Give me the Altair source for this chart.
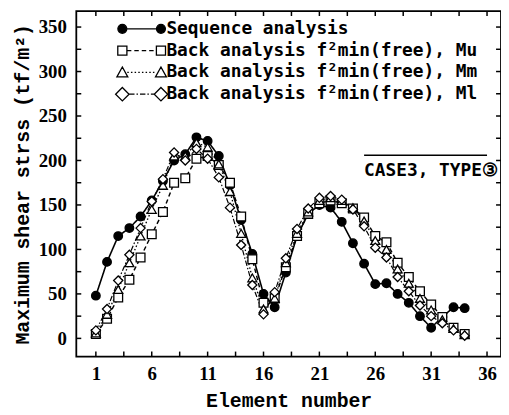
import altair as alt
import pandas as pd

# ---------------- data ----------------
elements = list(range(1, 35))
seq = [48, 86, 115, 124, 137, 155, 177, 200, 207, 226, 222, 205, 172, 133, 95, 50, 35,
       74, 115, 140, 150, 147, 131, 107, 84, 61, 62, 50, 40, 25, 12, 24, 35, 34]
mu = [5, 22, 46, 66, 91, 117, 142, 175, 180, 202, 205, 195, 175, 137, 89, 40, 45,
      80, 115, 140, 152, 155, 152, 146, 136, 115, 108, 85, 69, 53, 38, 24, 12, 5]
mm = [6, 27, 55, 85, 115, 145, 172, 205, 205, 220, 215, 196, 165, 118, 68, 33, 45,
      85, 118, 142, 155, 158, 155, 147, 132, 110, 100, 78, 62, 45, 32, 21, 11, 4]
ml = [9, 33, 65, 94, 124, 154, 179, 209, 200, 213, 202, 181, 147, 105, 60, 27, 52,
      90, 123, 146, 158, 160, 156, 145, 126, 102, 91, 69, 53, 37, 25, 17, 9, 3]

series_names = [
    "Sequence analysis",
    "Back analysis f²min(free), Mu",
    "Back analysis f²min(free), Mm",
    "Back analysis f²min(free), Ml",
]
series_values = [seq, mu, mm, ml]

x_label_values = [1, 6, 11, 16, 21, 26, 31, 36]
x_tick_values = [1, 3.5, 6, 8.5, 11, 13.5, 16, 18.5, 21, 23.5, 26, 28.5, 31, 33.5, 36]
y_label_values = [0, 50, 100, 150, 200, 250, 300, 350]
y_tick_values = [0, 25, 50, 75, 100, 125, 150, 175, 200, 225, 250, 275, 300, 325, 350]

x_title = "Element number"
y_title = "Maximum shear strss (tf/m²)"
annotation_text = ["CASE3, TYPE③"]
annotation_x = [25]
annotation_y = [182]
overline_x = [25]
overline_x2 = [36]
overline_y = [206]

rows = []
for name, vals in zip(series_names, series_values):
    for e, v in zip(elements, vals):
        rows.append({"element": e, "stress": v, "series": name})
df = pd.DataFrame(rows)

# ---------------- styling ----------------
W, H = 429, 349
TICK_LEN = 5
x_domain = [-0.75, 37.25]
y_domain = [-20.4, 368]
xscale = alt.Scale(domain=x_domain, nice=False, zero=False)
yscale = alt.Scale(domain=y_domain, nice=False, zero=False)

dash_px = [[1, 0], [4.5, 3], [1.5, 2.2], [5.5, 2, 1.5, 2]]
width_px = [1.6, 1.2, 1.2, 1.2]
point_shapes = ["circle", "square", "triangle-up", "diamond"]
point_sizes = [75, 85, 100, 175]
fills = ["black", "white", "white", "white"]
strokes = ["black", "black", "black", "black"]

TICK_FONT = "Liberation Serif"
TITLE_FONT = "Liberation Mono"
TEXT_FONT = "DejaVu Sans Mono"


def dash_segments(a, b, pattern):
    out = []
    pos, i = a, 0
    while pos < b - 1e-9:
        end = min(pos + pattern[i % len(pattern)], b)
        if i % 2 == 0:
            out.append(f"M{pos:.3f},0L{end:.3f},0")
        pos = end
        i += 1
    return "".join(out)


def marker(kind, cx):
    if kind == "circle":
        r = 0.45
        return (f"M{cx - r:.3f},0A{r},{r},0,1,0,{cx + r:.3f},0"
                f"A{r},{r},0,1,0,{cx - r:.3f},0Z")
    if kind == "square":
        h = 0.46
        return (f"M{cx - h:.3f},{-h}L{cx + h:.3f},{-h}L{cx + h:.3f},{h}"
                f"L{cx - h:.3f},{h}Z")
    if kind == "triangle":
        return (f"M{cx:.3f},-0.55L{cx + 0.55:.3f},0.45L{cx - 0.55:.3f},0.45Z")
    h = 0.68
    return f"M{cx:.3f},{-h}L{cx + h:.3f},0L{cx:.3f},{h}L{cx - h:.3f},0Z"


C = 1.95
legend_defs = [("circle", [10, 0], 0.45), ("square", [0.45, 0.3], 0.46),
               ("triangle", [0.15, 0.22], 0.5), ("diamond", [0.55, 0.2, 0.15, 0.2], 0.68)]
legend_paths = []
for kind, pat, half in legend_defs:
    a, b = -C + half, C - half
    legend_paths.append(marker(kind, -C) + dash_segments(a, b, pat) + marker(kind, C))

ax_x_lab = alt.Axis(orient="bottom", values=x_label_values, ticks=False, domain=False,
                    grid=False, labelFont=TICK_FONT, labelFontSize=19, labelFontWeight="bold",
                    labelColor="black", labelPadding=8, labelFlush=False, title=x_title,
                    titleFont=TITLE_FONT, titleFontSize=20, titleFontWeight="bold",
                    titleColor="black", titlePadding=7)
ax_y_lab = alt.Axis(orient="left", values=y_label_values, ticks=False, domain=False,
                    grid=False, labelFont=TICK_FONT, labelFontSize=19, labelFontWeight="bold",
                    labelColor="black", labelPadding=10, labelFlush=False, title=y_title,
                    titleFont=TITLE_FONT, titleFontSize=20, titleFontWeight="bold",
                    titleColor="black", titlePadding=6)

base = alt.Chart(df)

lines = base.mark_line(color="black").encode(
    x=alt.X("element:Q", scale=xscale, axis=ax_x_lab),
    y=alt.Y("stress:Q", scale=yscale, axis=ax_y_lab),
    strokeDash=alt.StrokeDash("series:N", scale=alt.Scale(domain=series_names, range=dash_px),
                              legend=None),
    strokeWidth=alt.StrokeWidth("series:N", scale=alt.Scale(domain=series_names, range=width_px),
                                legend=None),
)

points = base.mark_point(filled=True, opacity=1, stroke="black", strokeWidth=1.3).encode(
    x=alt.X("element:Q", scale=xscale, axis=None),
    y=alt.Y("stress:Q", scale=yscale, axis=None),
    shape=alt.Shape("series:N", scale=alt.Scale(domain=series_names, range=point_shapes),
                    legend=None),
    fill=alt.Fill("series:N", scale=alt.Scale(domain=series_names, range=fills), legend=None),
    size=alt.Size("series:O", scale=alt.Scale(domain=series_names, range=point_sizes),
                  legend=None),
)

# inward tick marks on all four sides of the frame
xt_df = pd.DataFrame({"t": x_tick_values})
yt_df = pd.DataFrame({"t": y_tick_values})
tick_style = dict(color="black", strokeWidth=1.5)
ticks_bottom = alt.Chart(xt_df).mark_rule(**tick_style).encode(
    x=alt.X("t:Q", scale=xscale, axis=None), y=alt.value(H), y2=alt.value(H - TICK_LEN))
ticks_top = alt.Chart(xt_df).mark_rule(**tick_style).encode(
    x=alt.X("t:Q", scale=xscale, axis=None), y=alt.value(0), y2=alt.value(TICK_LEN))
ticks_left = alt.Chart(yt_df).mark_rule(**tick_style).encode(
    y=alt.Y("t:Q", scale=yscale, axis=None), x=alt.value(0), x2=alt.value(TICK_LEN))
ticks_right = alt.Chart(yt_df).mark_rule(**tick_style).encode(
    y=alt.Y("t:Q", scale=yscale, axis=None), x=alt.value(W), x2=alt.value(W - TICK_LEN))

ann_df = pd.DataFrame({"x": annotation_x, "y": annotation_y, "label": annotation_text})
annotation = alt.Chart(ann_df).mark_text(
    align="left", baseline="alphabetic", font=TEXT_FONT, fontSize=18, fontWeight="bold",
    color="black").encode(
    x=alt.X("x:Q", scale=xscale, axis=None),
    y=alt.Y("y:Q", scale=yscale, axis=None),
    text="label:N",
)

ol_df = pd.DataFrame({"x": overline_x, "x2": overline_x2, "y": overline_y})
overline = alt.Chart(ol_df).mark_rule(color="black", strokeWidth=1.5).encode(
    x=alt.X("x:Q", scale=xscale, axis=None),
    x2="x2:Q",
    y=alt.Y("y:Q", scale=yscale, axis=None),
)

leg = alt.Legend(orient="none", legendX=55, legendY=7, title=None, labelFont=TEXT_FONT,
                 labelFontSize=18, labelFontWeight="bold", labelColor="black", labelLimit=500,
                 symbolSize=400, symbolStrokeWidth=1.3, symbolOpacity=1, labelOffset=14,
                 rowPadding=2, padding=0)
legend_df = pd.DataFrame({"series": series_names})
legend_layer = alt.Chart(legend_df).mark_point(
    filled=True, opacity=1, strokeWidth=1.3, clip=True).encode(
    x=alt.value(-500),
    y=alt.value(-500),
    shape=alt.Shape("series:N", scale=alt.Scale(domain=series_names, range=legend_paths),
                    legend=leg, sort=series_names),
    fill=alt.Fill("series:N", scale=alt.Scale(domain=series_names, range=fills),
                  legend=leg, sort=series_names),
    stroke=alt.Stroke("series:N", scale=alt.Scale(domain=series_names, range=strokes),
                      legend=leg, sort=series_names),
)

chart = alt.layer(lines, points, ticks_bottom, ticks_top, ticks_left, ticks_right,
                  annotation, overline, legend_layer).resolve_scale(
    shape="independent", fill="independent", stroke="independent",
    strokeDash="independent", strokeWidth="independent", size="independent",
).resolve_axis(x="independent", y="independent").properties(
    width=W, height=H,
    autosize=alt.AutoSizeParams(type="none"),
    padding={"left": 69, "top": 1, "right": 0, "bottom": 58},
).configure_view(stroke="black", strokeWidth=1.8)

chart.save("out.html", embed_options={"renderer": "svg", "actions": False})
